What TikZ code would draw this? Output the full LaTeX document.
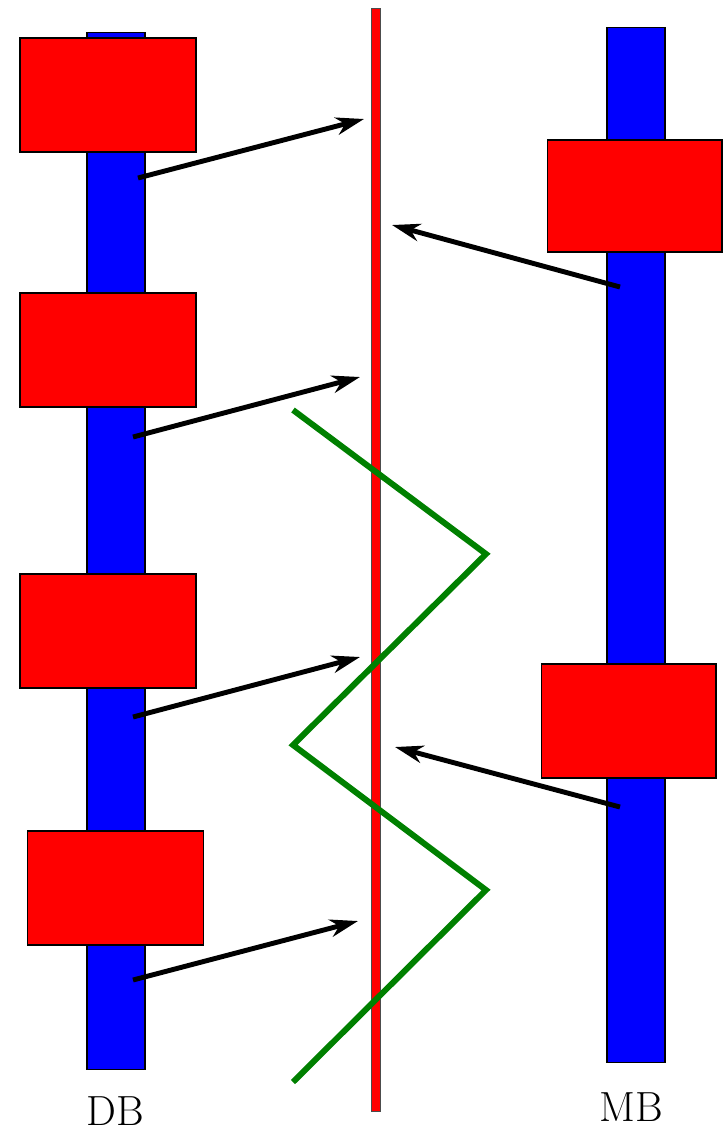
\documentclass[tikz,border=0pt]{standalone}
\usetikzlibrary{arrows.meta}

\tikzset{
    bar/.style={draw=black, line width=0.6pt, fill=blue, minimum width=1.16cm, inner sep=0pt, outer sep=0pt},
    block/.style={draw=black, line width=0.6pt, fill=red, minimum width=3.52cm, minimum height=2.28cm, inner sep=0pt, outer sep=0pt},
    wire/.style={draw=black!70, line width=0.5pt, fill=red, minimum width=0.18cm, minimum height=22.08cm, inner sep=0pt, outer sep=0pt},
    link/.style={line width=2.8pt, -{Stealth[length=16pt, width=10pt, inset=5pt]}},
    zigzag/.style={green!50!black, line width=3.4pt},
    tag/.style={font=\fontsize{24}{28}\selectfont, inner sep=0pt}
}

\begin{document}
\begin{tikzpicture}[x=0.02cm, y=-0.02cm]
        \useasboundingbox (0,0) rectangle (724,1131);

        % the two bars
        \node[bar, minimum height=20.76cm] (db) at (116,551) {};
        \node[bar, minimum height=20.72cm] (mb) at (636,545) {};

        % blocks on DB
        \node[block] (db1) at (108,95) {};
        \node[block] (db2) at (108,350) {};
        \node[block] (db3) at (108,631) {};
        \node[block] (db4) at (115.5,888) {};

        % blocks on MB
        \node[block, minimum width=3.5cm, minimum height=2.24cm] (mb1) at (634.5,196) {};
        \node[block, minimum width=3.5cm, minimum height=2.28cm] (mb2) at (628.5,721) {};

        % the wire in the middle
        \node[wire] (mid) at (375.5,560) {};

        \coordinate (s1) at (138,178);  \coordinate (t1) at (364,119);
        \coordinate (s2) at (133,437);  \coordinate (t2) at (360,377);
        \coordinate (s3) at (133,717);  \coordinate (t3) at (360,657);
        \coordinate (s4) at (133,980);  \coordinate (t4) at (358,921);
        \coordinate (s5) at (620,287);  \coordinate (t5) at (392,225);
        \coordinate (s6) at (620,807);  \coordinate (t6) at (395,747);

        \foreach \i in {1,...,6}
            \draw[link] (s\i) -- (t\i);

        % green zigzag
        \coordinate (z1) at (293,410);
        \coordinate (z2) at (486,554);
        \coordinate (z3) at (293,745);
        \coordinate (z4) at (486,890);
        \coordinate (z5) at (293,1082);
        \draw[zigzag] (z1) -- (z2) -- (z3) -- (z4) -- (z5);

        \node[tag] (dblabel) at (115,1111) {DB};
        \node[tag] (mblabel) at (631,1107) {MB};
    \end{tikzpicture}
\end{document}
